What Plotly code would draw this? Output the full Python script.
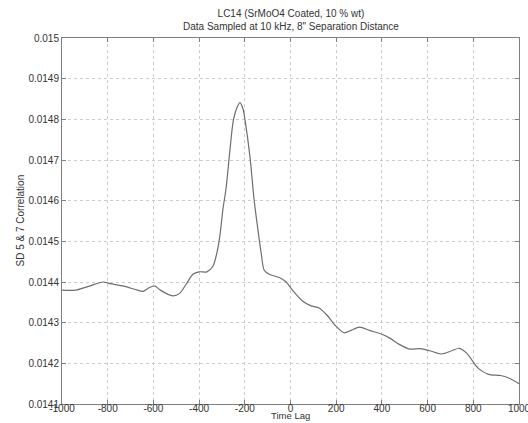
import plotly.graph_objects as go

time_lag = [-1000, -940, -880, -820, -790, -730, -670, -645, -615, -593, -570, -515,
            -485, -455, -427, -400, -366, -340, -322, -309, -295, -282, -265, -250,
            -235, -221, -208, -199, -177, -160, -141, -128, -115, -93, -49, -19, 7,
            51, 88, 125, 162, 198, 235, 265, 302, 346, 397, 434, 478, 522, 566, 610,
            661, 706, 739, 771, 823, 867, 919, 955, 1000]
correlation = [0.014380, 0.014380, 0.014390, 0.014400, 0.014396, 0.014390, 0.014380,
               0.014377, 0.014387, 0.014390, 0.014380, 0.014366, 0.014372, 0.014396,
               0.014419, 0.014425, 0.014425, 0.014438, 0.014472, 0.014514, 0.014582,
               0.014630, 0.014725, 0.014798, 0.014828, 0.014841, 0.014826, 0.014798,
               0.014706, 0.014606, 0.014522, 0.014470, 0.014429, 0.014419, 0.014411,
               0.014400, 0.014381, 0.014354, 0.014342, 0.014336, 0.014317, 0.014292,
               0.014275, 0.014281, 0.014289, 0.014281, 0.014272, 0.014262, 0.014246,
               0.014235, 0.014236, 0.014231, 0.014223, 0.014231, 0.014237, 0.014225,
               0.014187, 0.014173, 0.014170, 0.014164, 0.014150]

x_ticks = [-1000, -800, -600, -400, -200, 0, 200, 400, 600, 800, 1000]
y_ticks = [0.0141, 0.0142, 0.0143, 0.0144, 0.0145, 0.0146, 0.0147, 0.0148, 0.0149, 0.015]
y_tick_text = ["0.0141", "0.0142", "0.0143", "0.0144", "0.0145", "0.0146", "0.0147",
               "0.0148", "0.0149", "0.015"]

font_family = "Liberation Sans, Arial, sans-serif"
text_color = "#333333"

fig = go.Figure()
fig.add_trace(go.Scatter(
    x=time_lag, y=correlation, mode="lines",
    line=dict(color="#6e6e6e", width=1.2, shape="spline", smoothing=0.8),
    showlegend=False, hoverinfo="skip"))

axis_common = dict(
    showline=True, linecolor="#808080", linewidth=1, mirror="ticks",
    ticks="inside", ticklen=4, tickcolor="#808080",
    showgrid=True, gridcolor="#cccccc", griddash="dot", gridwidth=1,
    zeroline=False, ticklabeloverflow="allow", automargin=False,
    tickfont=dict(family=font_family, size=10, color=text_color),
)

fig.update_xaxes(range=[-1000, 1000], tickvals=x_ticks,
                 ticktext=[str(v) for v in x_ticks], ticklabelstandoff=-5,
                 **axis_common)
fig.update_yaxes(range=[0.0141, 0.015], tickvals=y_ticks, ticktext=y_tick_text,
                 **axis_common)

fig.update_layout(
    width=528, height=423,
    margin=dict(l=62, r=9, t=38, b=19, pad=0, autoexpand=False),
    paper_bgcolor="white", plot_bgcolor="white",
    font=dict(family=font_family, color=text_color),
    annotations=[
        dict(text="LC14 (SrMoO4 Coated, 10 % wt)<br>Data Sampled at 10 kHz, 8\" Separation Distance",
             x=0.5, xref="paper", y=1.0, yref="paper", yshift=32,
             xanchor="center", yanchor="top", showarrow=False,
             font=dict(size=10, color=text_color, family=font_family)),
        dict(text="Time Lag", x=0.5, xref="paper", y=0, yref="paper", yshift=-19,
             xanchor="center", yanchor="bottom", showarrow=False,
             font=dict(size=9.5, color=text_color, family=font_family)),
        dict(text="SD 5 & 7 Correlation", x=0, xref="paper", xshift=-50,
             y=0.5, yref="paper", textangle=-90, xanchor="left", yanchor="middle",
             showarrow=False,
             font=dict(size=10, color=text_color, family=font_family)),
    ],
)

fig.write_html("out.html")
